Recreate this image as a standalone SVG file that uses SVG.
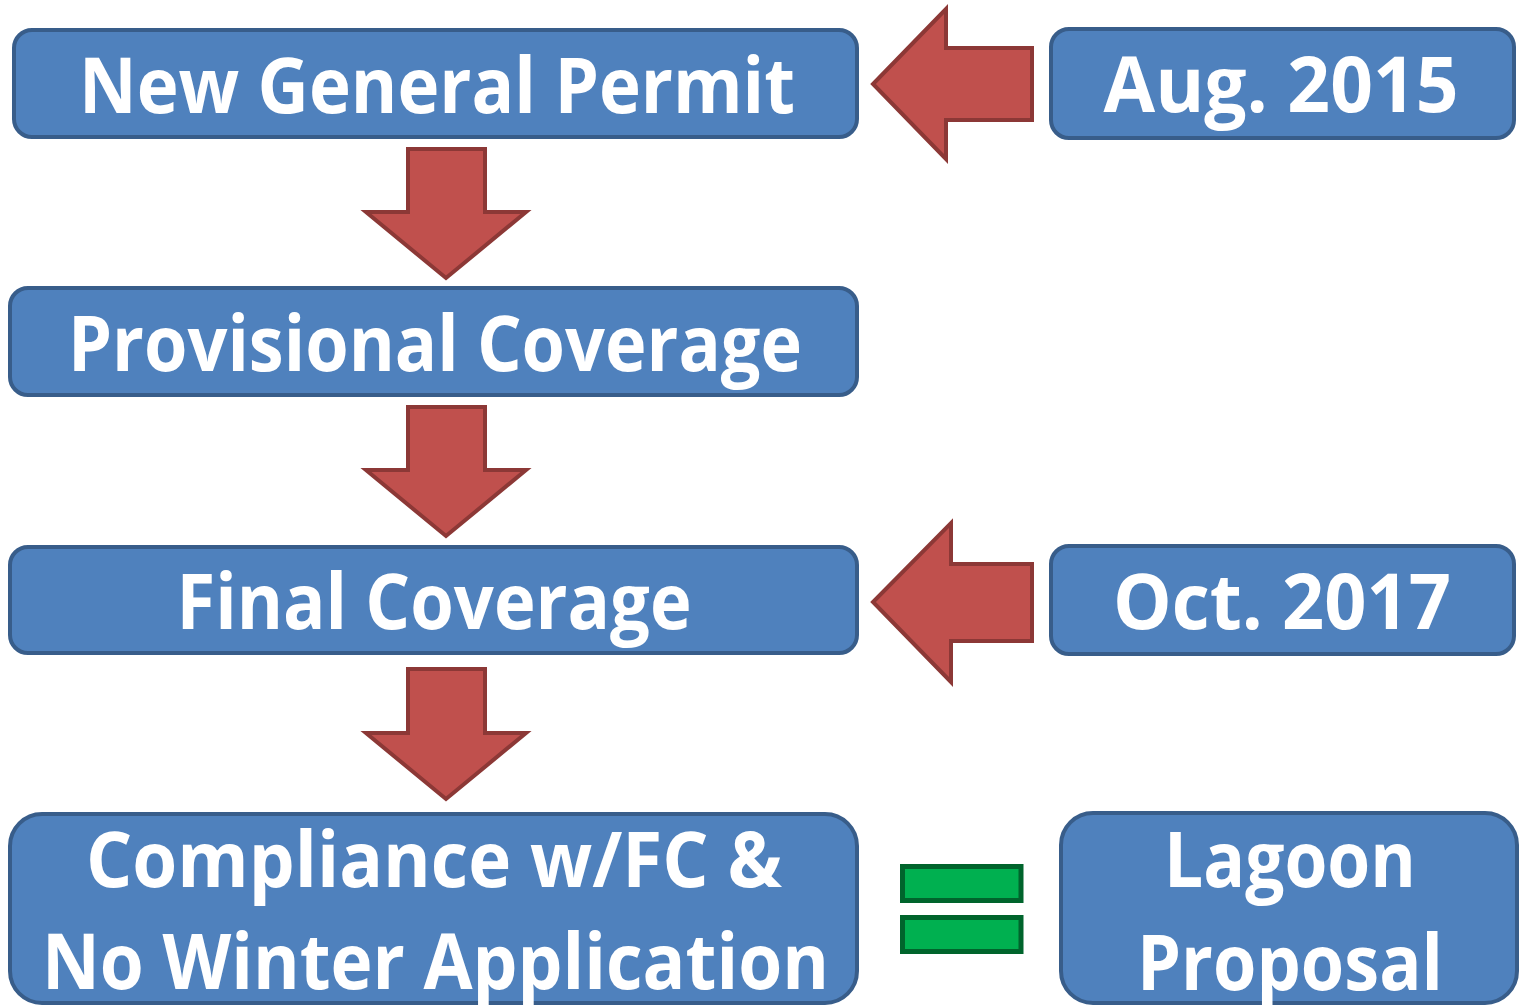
<svg xmlns="http://www.w3.org/2000/svg" width="1521" height="1006" viewBox="0 0 1521 1006">
<style>
.box{fill:#4F81BD;stroke:#385D8A;stroke-width:4}
.arr{fill:#C0504D;stroke:#8C3836;stroke-width:4;stroke-linejoin:miter}
.eq{fill:#00B050;stroke:#00642C;stroke-width:5}
.t{font-family:"Open Sans","DejaVu Sans",sans-serif;font-weight:bold;font-size:77px;fill:#FFFFFF;text-anchor:middle}
</style>
<rect width="1521" height="1006" fill="#FFFFFF"/>
<g id="connectors">
<polygon class="arr" points="408,149 485,149 485,212 526,212 446,278 366,212 408,212"/>
<polygon class="arr" points="408,407 485,407 485,470 526,470 446,536 366,470 408,470"/>
<polygon class="arr" points="408,669 485,669 485,733 526,733 446,799 366,733 408,733"/>
<polygon class="arr" points="1032,48 1032,120 946,120 946,159 873,84 946,9 946,48"/>
<polygon class="arr" points="1032,564 1032,641 951,641 951,682 873,602 951,523 951,564"/>
</g>
<g id="node-new-general-permit">
<rect class="box" x="14" y="30" width="843" height="107" rx="18"/>
<text class="t" x="437" y="113" textLength="716" lengthAdjust="spacingAndGlyphs">New General Permit</text>
</g>
<g id="node-aug-2015">
<rect class="box" x="1051" y="29" width="463" height="109" rx="18"/>
<text class="t" x="1281" y="112" textLength="355" lengthAdjust="spacingAndGlyphs">Aug. 2015</text>
</g>
<g id="node-provisional-coverage">
<rect class="box" x="10" y="288" width="847" height="107" rx="18"/>
<text class="t" x="435" y="371" textLength="734" lengthAdjust="spacingAndGlyphs">Provisional Coverage</text>
</g>
<g id="node-final-coverage">
<rect class="box" x="10" y="547" width="847" height="106" rx="18"/>
<text class="t" x="434" y="629" textLength="515" lengthAdjust="spacingAndGlyphs">Final Coverage</text>
</g>
<g id="node-oct-2017">
<rect class="box" x="1051" y="546" width="463" height="108" rx="18"/>
<text class="t" x="1282" y="629" textLength="338" lengthAdjust="spacingAndGlyphs">Oct. 2017</text>
</g>
<g id="node-compliance">
<rect class="box" x="10" y="814" width="847" height="189" rx="32"/>
<text class="t" x="434" y="887" textLength="696" lengthAdjust="spacingAndGlyphs">Compliance w/FC &amp;</text>
<text class="t" x="435.5" y="989" textLength="787" lengthAdjust="spacingAndGlyphs">No Winter Application</text>
</g>
<g id="node-equals">
<rect class="eq" x="902.5" y="866.5" width="118.5" height="34"/>
<rect class="eq" x="902.5" y="917.5" width="118.5" height="34"/>
</g>
<g id="node-lagoon-proposal">
<rect class="box" x="1061" y="813" width="456" height="190" rx="32"/>
<text class="t" x="1290" y="887" textLength="252" lengthAdjust="spacingAndGlyphs">Lagoon</text>
<text class="t" x="1290" y="990" textLength="306" lengthAdjust="spacingAndGlyphs">Proposal</text>
</g>
</svg>
